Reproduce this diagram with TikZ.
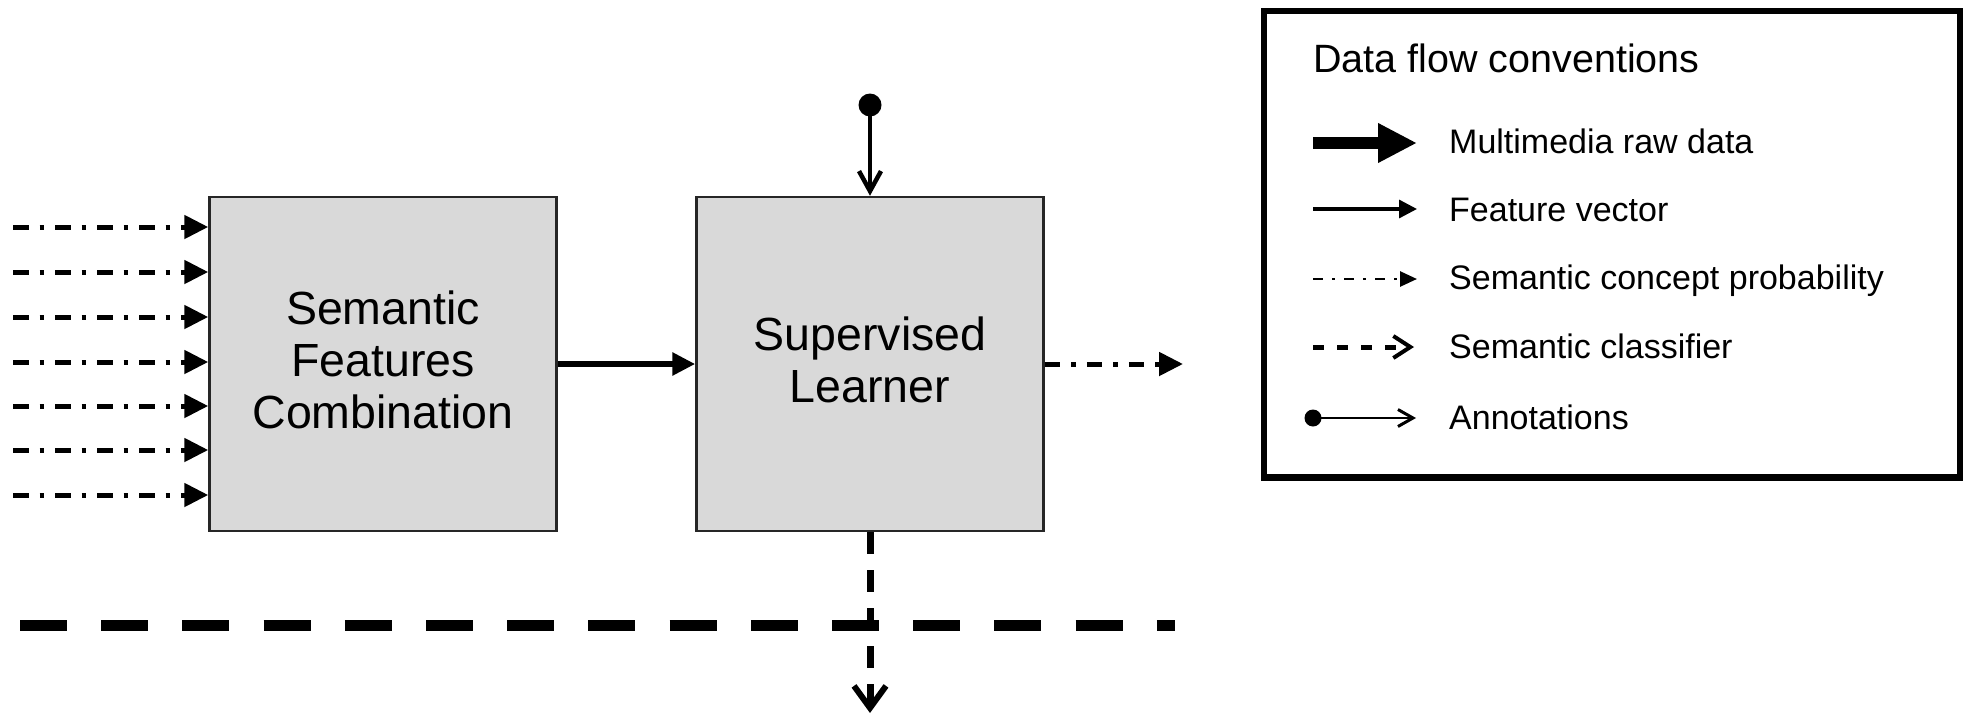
\documentclass[tikz,border=0pt]{standalone}
\usepackage{fontspec}
\setmainfont{Liberation Sans}
\usetikzlibrary{arrows.meta}
\definecolor{boxgray}{RGB}{217,217,217}

\begin{document}
\begin{tikzpicture}[x=1pt,y=-1pt,
  block/.style={draw=black!85, line width=2.5pt, fill=boxgray,
    minimum width=347pt, minimum height=334pt, inner sep=0pt},
  blocktext/.style={align=center, inner sep=0pt,
    font=\fontsize{46.5}{52}\selectfont},
  probline/.style={line width=5pt,
    dash pattern=on 15.7pt off 10.8pt on 4.7pt off 10.8pt,
    -{Triangle[length=24pt,width=23pt]}},
  featline/.style={line width=6pt, -{Triangle[length=23pt,width=22pt]}},
  classline/.style={line width=7pt, dash pattern=on 22pt off 16pt,
    -{Straight Barb[length=22pt,width=32pt,line width=6pt]}},
  annline/.style={line width=4pt,
    -{Straight Barb[length=20pt,width=22pt,line width=4.5pt]}},
  annodot/.style={circle, fill=black, inner sep=0pt, minimum size=#1},
  busline/.style={line width=11pt, dash pattern=on 47pt off 34.2pt},
  legendbox/.style={draw=black, line width=6.3pt, minimum width=696.5pt,
    minimum height=466.5pt, inner sep=0pt},
  legtext/.style={anchor=base west, inner sep=0pt,
    font=\fontsize{34}{40}\selectfont},
  legtitle/.style={anchor=base west, inner sep=0pt,
    font=\fontsize{39.5}{46}\selectfont},
]
\useasboundingbox (0,0) rectangle (1963,715);

% processing blocks
\node[block] (sfc) at (383,364) {};
\node[blocktext] (sfct) at ([yshift=4pt]sfc.center) {Semantic\\Features\\Combination};
\node[block] (sl) at (870,364) {};
\node[blocktext] (slt) at ([yshift=4.5pt]sl.center) {Supervised\\Learner};

% incoming semantic concept probabilities
\foreach \i/\y in {1/227,2/272,3/317,4/362,5/406,6/450,7/495} {
  \coordinate (in\i) at (13,\y);
  \draw[probline] (in\i) -- (in\i -| sfc.west);
}

% feature vector between the blocks
\draw[featline] (sfc.east) -- (sl.west);

% outgoing probability
\coordinate (out) at (1183,364);
\draw[probline] (sl.east) -- (out);

% annotations into the learner
\node[annodot=23pt] (ann) at (870,105) {};
\draw[annline] (ann.center) -- (sl.north);

% semantic classifier bus and output
\coordinate (busl) at (20,625);
\coordinate (busr) at (1175,625);
\draw[busline] (busl) -- (busr);
\coordinate (cls) at (870,713);
\draw[classline] (sl.south) -- (cls);

% legend
\node[legendbox] (leg) at (1612.25,244.25) {};
\node[legtitle] (ttl) at (1313,72) {Data flow conventions};

\coordinate (r1a) at (1313,143); \coordinate (r1b) at (1417,143);
\draw[line width=12.7pt, -{Triangle[length=39pt,width=37pt]}] (r1a) -- (r1b);
\node[legtext] (t1) at (1449,153) {Multimedia raw data};

\coordinate (r2a) at (1313,209); \coordinate (r2b) at (1417,209);
\draw[line width=3.3pt, -{Triangle[length=18pt,width=18pt]}] (r2a) -- (r2b);
\node[legtext] (t2) at (1449,221) {Feature vector};

\coordinate (r3a) at (1313,279); \coordinate (r3b) at (1417,279);
\draw[line width=2.7pt, dash pattern=on 10pt off 9pt on 3pt off 9pt,
  -{Triangle[length=17pt,width=15pt]}] (r3a) -- (r3b);
\node[legtext] (t3) at (1449,289) {Semantic concept probability};

\coordinate (r4a) at (1313,347); \coordinate (r4b) at (1414,347);
\draw[line width=5pt, dash pattern=on 11pt off 13pt,
  -{Straight Barb[length=17pt,width=22pt,line width=4pt]}] (r4a) -- (r4b);
\node[legtext] (t4) at (1449,358) {Semantic classifier};

\node[annodot=17pt] (r5a) at (1313,418) {};
\coordinate (r5b) at (1416,418);
\draw[line width=2.5pt,
  -{Straight Barb[length=15pt,width=17pt,line width=3pt]}] (r5a.center) -- (r5b);
\node[legtext] (t5) at (1449,429) {Annotations};
\end{tikzpicture}
\end{document}
